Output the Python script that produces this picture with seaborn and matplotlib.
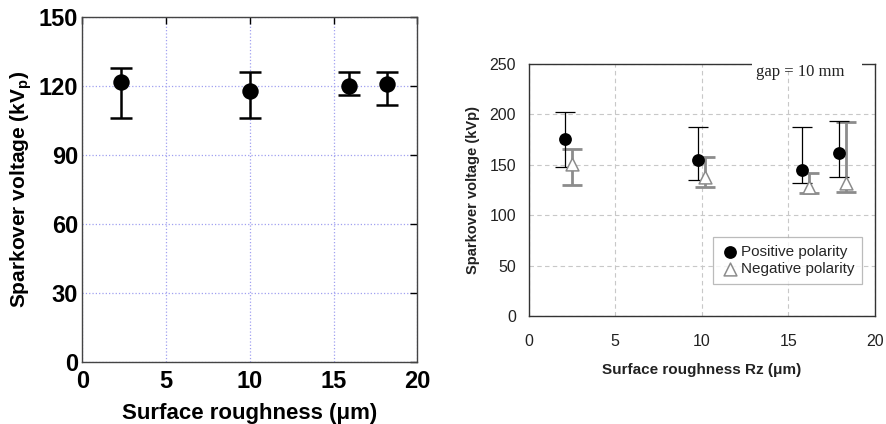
import matplotlib
matplotlib.use("Agg")
import matplotlib.pyplot as plt
from matplotlib.patches import Rectangle
import seaborn as sns
import pandas as pd

# ---------------- data ----------------
# left panel
left_rough = [2.3, 10.0, 15.9, 18.2]
left_mean = [122, 118, 120, 121]
left_upper = [128, 126, 126, 126]
left_lower = [106, 106, 116, 112]

# right panel
pos_rough = [2.1, 9.8, 15.8, 17.9]
pos_mean = [176, 155, 145, 162]
pos_upper = [202, 188, 188, 194]
pos_lower = [148, 135, 132, 138]

neg_rough = [2.5, 10.2, 16.2, 18.3]
neg_mean = [151, 138, 128, 132]
neg_upper = [166, 158, 142, 193]
neg_lower = [130, 128, 122, 123]

left_yticks = [0, 30, 60, 90, 120, 150]
right_yticks = [0, 50, 100, 150, 200, 250]
xticks = [0, 5, 10, 15, 20]

# ---------------- style ----------------
sns.set_theme(style="white")
plt.rcParams["font.family"] = ["Liberation Sans", "DejaVu Sans"]
plt.rcParams["mathtext.fontset"] = "custom"
plt.rcParams["mathtext.rm"] = "Liberation Sans"
plt.rcParams["mathtext.bf"] = "Liberation Sans:bold"

fig = plt.figure(figsize=(8.87, 4.24), dpi=100)
fig.patch.set_facecolor("white")

# ================= LEFT PANEL =================
ax1 = fig.add_axes([0.0928, 0.147, 0.3777, 0.812])
df_left = pd.DataFrame({"x": left_rough, "y": left_mean})
yerr_l = [[m - lo for m, lo in zip(left_mean, left_lower)],
          [hi - m for m, hi in zip(left_mean, left_upper)]]
ax1.errorbar(left_rough, left_mean, yerr=yerr_l, fmt="none", ecolor="black",
             elinewidth=1.8, capsize=8, capthick=1.8, zorder=3)
sns.scatterplot(data=df_left, x="x", y="y", ax=ax1, color="black", s=140,
                edgecolor="black", linewidth=0, zorder=4, legend=False)
ax1.set_xlim(0, 20)
ax1.set_ylim(0, 150)
ax1.set_xticks(xticks)
ax1.set_yticks(left_yticks)
ax1.grid(True, color="#a0a0f0", linestyle=":", linewidth=0.9)
ax1.tick_params(direction="in", length=5, width=1, top=True, right=True,
                labelsize=17, colors="black")
ax1.tick_params(axis="x", pad=6)
ax1.tick_params(axis="y", pad=3)
for lab in ax1.get_xticklabels() + ax1.get_yticklabels():
    lab.set_fontweight("bold")
for sp in ax1.spines.values():
    sp.set_color("#444444")
    sp.set_linewidth(1.0)
ax1.set_xlabel("Surface roughness (μm)", fontsize=16, fontweight="bold",
               labelpad=7, color="black")
ax1.set_ylabel(r"Sparkover voltage (kV$_\mathbf{p}$)", fontsize=15,
               fontweight="bold", labelpad=3, color="black")

# ================= RIGHT PANEL =================
ax2 = fig.add_axes([0.596, 0.254, 0.3904, 0.595])
yerr_p = [[m - lo for m, lo in zip(pos_mean, pos_lower)],
          [hi - m for m, hi in zip(pos_mean, pos_upper)]]
yerr_n = [[m - lo for m, lo in zip(neg_mean, neg_lower)],
          [hi - m for m, hi in zip(neg_mean, neg_upper)]]
ax2.errorbar(neg_rough, neg_mean, yerr=yerr_n, fmt="none", ecolor="#8c8c8c",
             elinewidth=2.0, capsize=7, capthick=2.0, zorder=3)
ax2.errorbar(pos_rough, pos_mean, yerr=yerr_p, fmt="none", ecolor="black",
             elinewidth=0.9, capsize=7, capthick=0.9, zorder=3)
df_pos = pd.DataFrame({"x": pos_rough, "y": pos_mean})
df_neg = pd.DataFrame({"x": neg_rough, "y": neg_mean})
sns.scatterplot(data=df_pos, x="x", y="y", ax=ax2, color="black", s=85,
                linewidth=0, marker="o", zorder=5, label="Positive polarity")
sns.scatterplot(data=df_neg, x="x", y="y", ax=ax2, facecolor="white",
                edgecolor="#8c8c8c", linewidth=1.1, s=85, marker="^",
                zorder=4, label="Negative polarity")
ax2.set_xlim(0, 20)
ax2.set_ylim(0, 250)
ax2.set_xticks(xticks)
ax2.set_yticks(right_yticks)
ax2.grid(True, color="#c8c8c8", linestyle=(0, (4, 3)), linewidth=0.8)
ax2.tick_params(length=0, labelsize=11.5, colors="#222222")
ax2.tick_params(axis="x", pad=13)
ax2.tick_params(axis="y", pad=9)
for sp in ax2.spines.values():
    sp.set_color("#333333")
    sp.set_linewidth(1.0)
ax2.set_xlabel("Surface roughness Rz (μm)", fontsize=11, fontweight="bold",
               labelpad=10, color="#222222")
ax2.set_ylabel("Sparkover voltage (kVp)", fontsize=10.5, fontweight="bold",
               labelpad=7, color="#222222")

leg = ax2.legend(loc="lower right", bbox_to_anchor=(0.962, 0.128), frameon=True,
                 fancybox=False, fontsize=11, handletextpad=0.1,
                 borderpad=0.5, labelspacing=0.25, handlelength=1.2,
                 borderaxespad=0)
leg.get_frame().set_edgecolor("#aaaaaa")
leg.get_frame().set_linewidth(0.9)

# white gap in top spine behind the annotation
ax2.add_patch(Rectangle((0.645, 0.975), 0.317, 0.06, transform=ax2.transAxes,
                        facecolor="white", edgecolor="none", clip_on=False,
                        zorder=10))
ax2.text(0.784, 0.968, "gap = 10 mm", transform=ax2.transAxes, ha="center",
         va="center", fontsize=12, family=["Liberation Serif", "DejaVu Serif"],
         color="#222222", zorder=11, clip_on=False)

fig.savefig("out.png", dpi=100, facecolor="white")
